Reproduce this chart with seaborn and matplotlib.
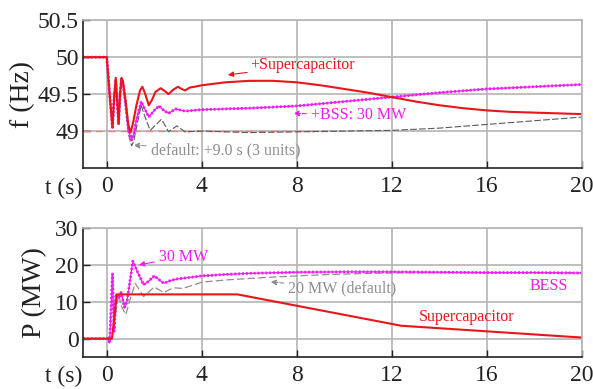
import numpy as np
import pandas as pd
import matplotlib
matplotlib.use("Agg")
import matplotlib.pyplot as plt
import seaborn as sns

# ---------------- data ----------------
f_super_t = [-1, 0, 0.12, 0.24, 0.31, 0.38, 0.44, 0.5, 0.56, 0.62, 0.68, 0.8, 0.9, 1.0, 1.1, 1.25,
             1.4, 1.5, 1.6, 1.77, 1.9, 2.05, 2.27, 2.45, 2.6, 2.8, 3.0, 3.15, 3.3, 3.5, 3.7,
             4, 5, 6, 7, 8, 9, 10, 11, 12, 13, 14, 15, 16, 17, 18, 19, 20]
f_super = [50, 50, 49.5, 49.05, 49.45, 49.72, 49.4, 49.1, 49.5, 49.72, 49.68, 49.4, 49.1, 48.98,
           49.1, 49.35, 49.55, 49.6, 49.52, 49.35, 49.42, 49.53, 49.58, 49.54, 49.5, 49.56, 49.6,
           49.57, 49.55, 49.59, 49.6, 49.62, 49.66, 49.68, 49.68, 49.66, 49.62, 49.57, 49.52,
           49.46, 49.4, 49.35, 49.31, 49.28, 49.26, 49.25, 49.24, 49.23]

f_bss_t = [-1, 0, 0.12, 0.24, 0.31, 0.38, 0.44, 0.5, 0.56, 0.62, 0.68, 0.8, 0.92, 1.05, 1.15, 1.25,
           1.45, 1.6, 1.77, 2.0, 2.2, 2.4, 2.6, 2.9, 3.3, 4, 6, 8, 10, 12, 14, 16, 18, 20]
f_bss = [50, 50, 49.5, 49.05, 49.45, 49.7, 49.4, 49.1, 49.5, 49.7, 49.65, 49.35, 49.0, 48.88,
         48.98, 49.15, 49.4, 49.3, 49.19, 49.28, 49.34, 49.28, 49.24, 49.3, 49.27, 49.29, 49.31,
         49.34, 49.4, 49.46, 49.52, 49.57, 49.6, 49.63]

f_def_t = [-1, 0, 0.12, 0.24, 0.31, 0.38, 0.44, 0.5, 0.56, 0.62, 0.68, 0.8, 0.92, 1.05, 1.15, 1.25,
           1.45, 1.6, 1.83, 2.05, 2.3, 2.45, 2.6, 2.95, 3.3, 4, 6, 8, 10, 12, 14, 16, 18, 20]
f_def = [50, 50, 49.5, 49.05, 49.45, 49.68, 49.4, 49.08, 49.5, 49.68, 49.62, 49.3, 48.95, 48.8,
         48.88, 49.05, 49.35, 49.2, 49.01, 49.08, 49.16, 49.08, 48.99, 49.07, 48.99, 49.0, 48.98,
         48.99, 49.0, 49.01, 49.04, 49.09, 49.14, 49.19]

f_limit_t = [-1, 9.5]
f_limit = [49, 49]

p_super_t = [-1, 0.22, 0.42, 5.5, 12.4, 20]
p_super = [0, 0, 12, 12, 3.5, 0.3]

p_bss_t = [-1, 0.05, 0.12, 0.24, 0.31, 0.4, 0.5, 0.6, 0.75, 0.85, 1.1, 1.3, 1.55, 1.75, 2.0, 2.2,
           2.4, 2.7, 3.0, 3.5, 4, 5, 6, 8, 10, 12, 14, 16, 18, 20]
p_bss = [0, 0, -1.2, 17.5, 2, 12, 11, 12.5, 8.5, 10, 21, 18, 14.6, 15.5, 17, 16, 15, 15.8, 16.2,
         16.6, 17, 17.4, 17.7, 18, 18.1, 18.1, 18, 17.9, 17.9, 17.8]

p_def_t = [-1, 0.2, 0.35, 0.5, 0.6, 0.8, 1.0, 1.2, 1.55, 2.0, 2.4, 2.8, 3.2, 4, 5, 6, 7, 8, 9, 10,
           11, 12, 14, 16, 20]
p_def = [0, 0, 6, 12, 9, 6.5, 11, 15, 11.4, 14, 12.5, 13.8, 13.6, 15.3, 15.9, 16.3, 16.7, 17, 17.3,
         17.5, 17.7, 17.8, 17.9, 17.9, 17.8]

x_ticks = [0, 4, 8, 12, 16, 20]
f_ticks = [49, 49.5, 50, 50.5]
f_tick_labels = ["49", "49.5", "50", "50.5"]
p_ticks = [0, 10, 20, 30]

# ---------------- style ----------------
sns.set_theme(style="white")
plt.rcParams["font.family"] = ["Liberation Serif", "DejaVu Serif"]

RED = "#e8161b"
MAG = "#f01cf0"
GRAY = "#5a5a5a"
LGRAY = "#8e8e8e"
GRID = "#b4b4b4"

fig = plt.figure(figsize=(5.93, 3.89), dpi=100)
ax1 = fig.add_axes([0.140, 0.568, 0.841, 0.380])
ax2 = fig.add_axes([0.140, 0.082, 0.841, 0.332])


def line(ax, t, v, **kw):
    sns.lineplot(x=t, y=v, ax=ax, estimator=None, sort=False, **kw)


# top: frequency
line(ax1, f_limit_t, f_limit, color="#f08080", lw=1.0, linestyle=(0, (5, 4)))
line(ax1, f_def_t, f_def, color=GRAY, lw=0.8, linestyle=(0, (6, 2)))
line(ax1, f_bss_t, f_bss, color=MAG, lw=0.9)
line(ax1, f_bss_t, f_bss, color=MAG, lw=2.0, linestyle=(0, (0.7, 0.7)))
line(ax1, f_super_t, f_super, color=RED, lw=1.5)

# bottom: power
line(ax2, p_def_t, p_def, color=LGRAY, lw=0.9, linestyle=(0, (6, 2.5)))
line(ax2, p_bss_t, p_bss, color=MAG, lw=0.9)
line(ax2, p_bss_t, p_bss, color=MAG, lw=2.0, linestyle=(0, (0.7, 0.7)))
line(ax2, p_super_t, p_super, color=RED, lw=1.5)

for ax in (ax1, ax2):
    ax.set_xlim(-1, 20)
    ax.set_xticks(x_ticks)
    ax.set_xticklabels([str(v) for v in x_ticks])
    for s in ("top", "right"):
        ax.spines[s].set_visible(True)
        ax.spines[s].set_color(GRID)
        ax.spines[s].set_linewidth(1.2)
    for s in ("left", "bottom"):
        ax.spines[s].set_visible(True)
        ax.spines[s].set_color("#222222")
        ax.spines[s].set_linewidth(1.2)
    ax.tick_params(axis="both", direction="in", length=5, width=1.0, labelsize=17,
                   color="#222222", labelcolor="#222222", pad=3, left=True, bottom=True)
    ax.tick_params(axis="x", pad=6)
    ax.set_xlabel("")
    ax.set_axisbelow(True)
    ax.grid(True, color=GRID, linewidth=1.2, linestyle="-")

ax1.set_ylim(48.5, 50.5)
ax1.set_yticks(f_ticks)
ax1.set_yticklabels(f_tick_labels)
ax1.set_ylabel("f (Hz)", fontsize=20, color="#222222", labelpad=2)

ax2.set_ylim(-5, 30)
ax2.set_yticks(p_ticks)
ax2.set_yticklabels([str(v) for v in p_ticks])
ax2.set_ylabel("P (MW)", fontsize=20, color="#222222", labelpad=6)

# "t (s)" labels at left of x tick labels
fig.text(64 / 593, 1 - 188 / 389, "t (s)", fontsize=17, ha="center", va="center", color="#222222")
fig.text(64 / 593, 1 - 376 / 389, "t (s)", fontsize=17, ha="center", va="center", color="#222222")

# annotations
ann = 11.5
ax1.annotate("+Supercapacitor", xy=(5.1, 49.76), xytext=(6.05, 49.89), color=RED, fontsize=ann,
             va="center", ha="left",
             arrowprops=dict(arrowstyle="-|>", color=RED, lw=0.8, mutation_scale=8,
                             shrinkA=0, shrinkB=0))
ax1.annotate("+BSS: 30 MW", xy=(7.86, 49.24), xytext=(8.6, 49.22), color=MAG, fontsize=ann,
             va="center", ha="left",
             arrowprops=dict(arrowstyle="-|>", color=MAG, lw=0.8, linestyle="--",
                             mutation_scale=8, shrinkA=1, shrinkB=0))
ax1.annotate("default: +9.0 s (3 units)", xy=(1.13, 48.81), xytext=(1.85, 48.74), color=LGRAY,
             fontsize=ann, va="center", ha="left",
             arrowprops=dict(arrowstyle="-|>", color=LGRAY, lw=0.8, linestyle="--",
                             mutation_scale=8, shrinkA=1, shrinkB=0))

ax2.annotate("30 MW", xy=(1.35, 20.0), xytext=(2.2, 22.2), color=MAG, fontsize=ann,
             va="center", ha="left",
             arrowprops=dict(arrowstyle="-|>", color=MAG, lw=0.8, mutation_scale=8,
                             shrinkA=1, shrinkB=0))
ax2.annotate("20 MW (default)", xy=(6.9, 15.4), xytext=(7.65, 13.5), color=LGRAY, fontsize=ann,
             va="center", ha="left",
             arrowprops=dict(arrowstyle="-|>", color=LGRAY, lw=0.8, linestyle="--",
                             mutation_scale=8, shrinkA=1, shrinkB=0))
ax2.text(17.8, 14.3, "BESS", color=MAG, fontsize=ann, va="center", ha="left")
ax2.text(13.15, 5.9, "Supercapacitor", color=RED, fontsize=ann, va="center", ha="left")

fig.savefig("out.png", dpi=100)
